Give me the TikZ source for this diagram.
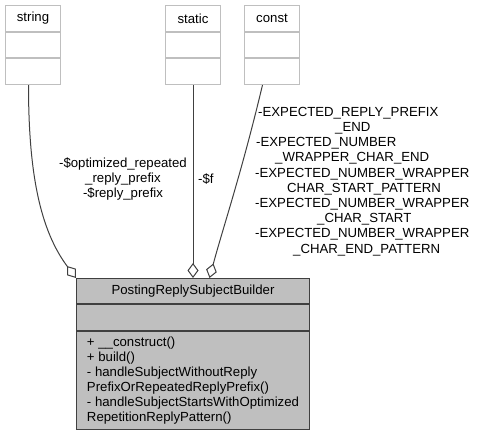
\documentclass[tikz,border=0pt]{standalone}
\usepackage{fontspec}
\setmainfont{Liberation Sans}
\usetikzlibrary{arrows.meta}
\definecolor{grey75}{gray}{0.75}
\definecolor{grey25}{gray}{0.25}
\begin{document}
\begin{tikzpicture}[x=1pt, y=-1pt,
            every node/.style={font=\fontsize{13.2}{15}\selectfont},
            part/.style={rectangle, draw=grey75, fill=white, line width=1pt, minimum width=55pt, minimum height=25.67pt, anchor=north west, inner sep=0pt},
            main/.style={rectangle, draw=grey25, fill=grey75, line width=1pt, minimum width=233pt, anchor=north west, inner sep=0pt},
            agg/.style={draw=grey25, line width=1pt, -{Diamond[open, fill=white, length=15pt, width=11pt]}},
            lbl/.style={inner sep=0pt},
        ]
            \useasboundingbox (0,0) rectangle (479,433);
            \node(stringhead) at (5,5) [part] {string};
            \node(stringattr) at (stringhead.south west) [part] {};
            \node(stringops) at (stringattr.south west) [part] {};
            \node(statichead) at (165,5) [part] {static};
            \node(staticattr) at (statichead.south west) [part] {};
            \node(staticops) at (staticattr.south west) [part] {};
            \node(consthead) at (244,5) [part] {const};
            \node(constattr) at (consthead.south west) [part] {};
            \node(constops) at (constattr.south west) [part] {};
            \node(mainhead) at (76,278) [main, minimum height=25pt] {PostingReplySubjectBuilder};
            \node(mainattr) at (mainhead.south west) [main, minimum height=26pt] {};
            \node(mainops) at (mainattr.south west) [main, minimum height=98pt, align=left] {+ \_\_construct()\\+ build()\\- handleSubjectWithoutReply\\PrefixOrRepeatedReplyPrefix()\\- handleSubjectStartsWithOptimized\\RepetitionReplyPattern()};
            \draw[agg] ([xshift=-4.5pt]stringops.south) .. controls +(0,88) and +(-36,-48) .. (mainhead.north west);
            \draw[agg] (staticops.south) -- (mainhead.north);
            \draw[agg] ([xshift=-9.5pt]constops.south) .. controls +(-21,88) and +(14,-52) .. ([xshift=16.5pt]mainhead.north);
            \node(stringlbl) at (123,179) [lbl, align=center] {-\$optimized\_repeated\\\_reply\_prefix\\-\$reply\_prefix};
            \node(staticlbl) at (198,179) [lbl, anchor=west] {-\$f};
            \node(constlbl) at (255,181.5) [lbl, anchor=west, align=left, font=\fontsize{13.2}{15.2}\selectfont] {\hspace*{3pt}-EXPECTED\_REPLY\_PREFIX\\\hspace*{80pt}\_END\\\hspace*{1pt}-EXPECTED\_NUMBER\\\hspace*{20pt}\_WRAPPER\_CHAR\_END\\-EXPECTED\_NUMBER\_WRAPPER\\\hspace*{32pt}CHAR\_START\_PATTERN\\-EXPECTED\_NUMBER\_WRAPPER\\\hspace*{62pt}\_CHAR\_START\\-EXPECTED\_NUMBER\_WRAPPER\\\hspace*{38pt}\_CHAR\_END\_PATTERN};
        \end{tikzpicture}
\end{document}
